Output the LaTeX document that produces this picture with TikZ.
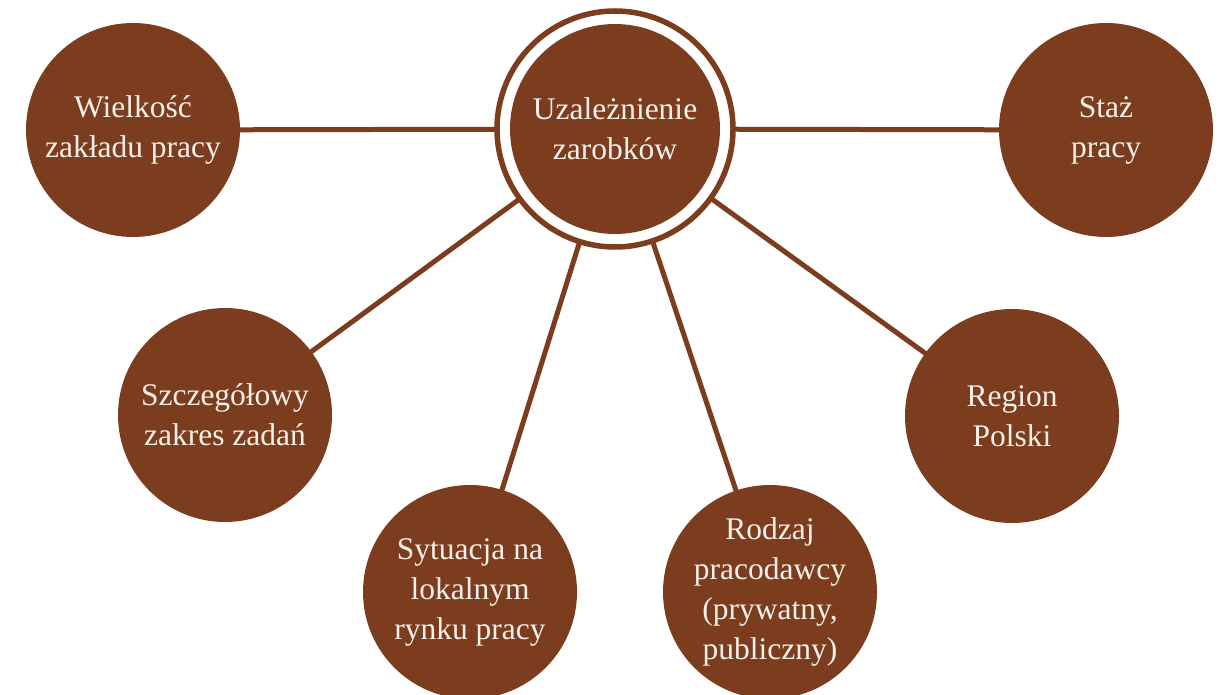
\documentclass[tikz,border=0pt]{standalone}
\usepackage{fontspec}
\setmainfont{Liberation Serif}
\usetikzlibrary{backgrounds}
\definecolor{brn}{HTML}{7B3D1E}
\definecolor{txt}{HTML}{F7F0EB}
\tikzset{
  bub/.style={circle, fill=brn, draw=none, minimum size=214pt, inner sep=0pt,
    text=txt, align=center, font=\fontsize{31.5}{40}\selectfont},
  hubring/.style={circle, fill=white, draw=brn, line width=5.5pt, minimum size=236pt, inner sep=0pt},
  conn/.style={draw=brn, line width=5pt}
}
\begin{document}
\begin{tikzpicture}[x=1pt, y=-1pt]
\useasboundingbox (0,0) rectangle (1220,695);
\node[hubring] (ring) at (615,129) {};
\node[bub, minimum size=210pt] (hub) at (615,129) {Uzależnienie\\zarobków};
\node[bub] (w) at (133,130) {Wielkość\\zakładu pracy};
\node[bub] (s) at (1106,130) {Staż\\pracy};
\node[bub] (sz) at (225,415) {Szczegółowy\\zakres zadań};
\node[bub] (sy) at (470,592) {Sytuacja na\\lokalnym\\rynku pracy};
\node[bub] (r) at (770,592) {Rodzaj\\pracodawcy\\(prywatny,\\publiczny)};
\node[bub] (reg) at (1012,416) {Region\\Polski};
\begin{pgfonlayer}{background}
\fill[white] (0,0) rectangle (1220,695);
\foreach \t in {w,s,sz,sy,r,reg}{
  \draw[conn] (ring.center) -- (\t.center);
}
\end{pgfonlayer}
\end{tikzpicture}
\end{document}
